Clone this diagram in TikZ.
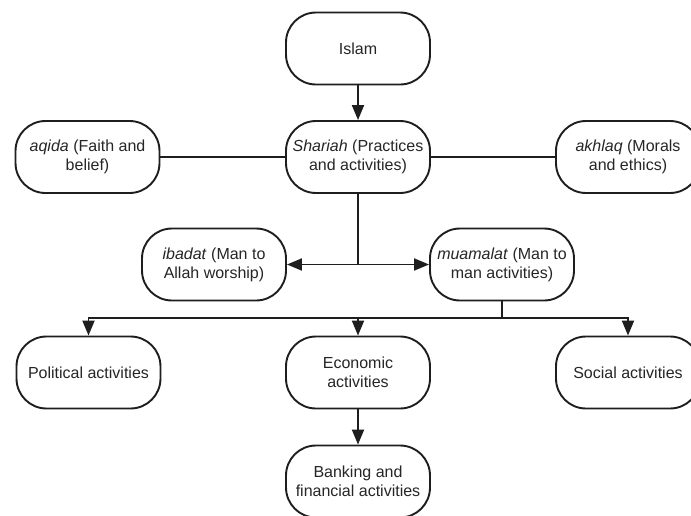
\documentclass[tikz,border=0pt]{standalone}
\usepackage{fontspec}
\setmainfont{Liberation Sans}
\usetikzlibrary{arrows.meta}
\definecolor{ink}{HTML}{1E1E1E}
\definecolor{txt}{HTML}{262626}
\begin{document}
\begin{tikzpicture}[x=1pt,y=-1pt,
  box/.style={draw=ink, line width=1.9pt, rounded corners=30pt,
    minimum width=144pt, minimum height=72pt, align=center,
    font=\fontsize{16}{19}\selectfont, text=txt, inner sep=0pt},
  link/.style={draw=ink, line width=1.9pt},
  arr/.style={link, -{Triangle[length=15pt,width=12pt]}}]
\clip (0,0) rectangle (691,515);
\fill[white] (0,0) rectangle (691,515);

% nodes
\node[box] (islam)    at (358,48.5)  {Islam};
\node[box] (shariah)  at (358,157)   {\textit{Shariah} (Practices\\and activities)};
\node[box] (aqida)    at (87.5,157)  {\textit{aqida} (Faith and\\belief)};
\node[box] (akhlaq)   at (628,157)   {\textit{akhlaq} (Morals\\and ethics)};
\node[box] (ibadat)   at (214,264.5) {\textit{ibadat} (Man to\\Allah worship)};
\node[box] (muamalat) at (502,264.5) {\textit{muamalat} (Man to\\man activities)};
\node[box] (political) at (88.5,372.5) {Political activities};
\node[box] (economic)  at (358,372.5)  {Economic\\activities};
\node[box] (social)    at (628,372.5)  {Social activities};
\node[box] (banking)   at (358,481.5)  {Banking and\\financial activities};

% connectors
\draw[arr] (islam) -- (shariah);
\draw[link] (aqida) -- (shariah);
\draw[link] (shariah) -- (akhlaq);

\coordinate (split) at (358,264.5);
\draw[link] (shariah.south) -- (split);
\draw[arr] (split) -- (ibadat.east);
\draw[arr] (split) -- (muamalat.west);

\coordinate (bus) at (0,318);
\draw[link] (muamalat.south) -- (muamalat.south |- bus);
\draw[link, line cap=rect] (political.north |- bus) -- (social.north |- bus);
\draw[arr] (political.north |- bus) -- (political.north);
\draw[arr] (economic.north |- bus) -- (economic.north);
\draw[arr] (social.north |- bus) -- (social.north);

\draw[arr] (economic) -- (banking);
\end{tikzpicture}
\end{document}
